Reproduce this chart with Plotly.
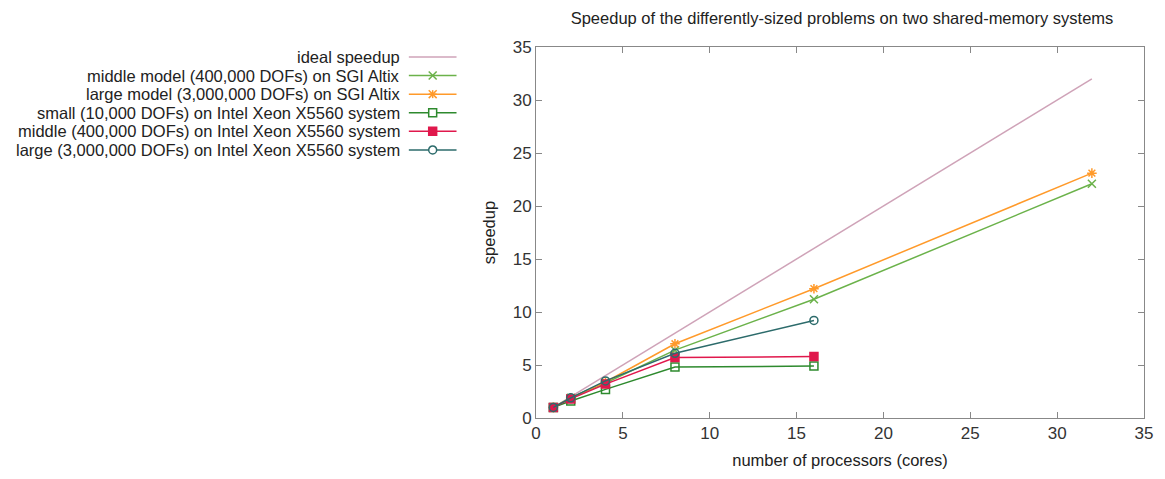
import plotly.graph_objects as go

procs_altix = [1, 2, 4, 8, 16, 32]
procs_xeon = [1, 2, 4, 8, 16]
ideal = [1, 2, 4, 8, 16, 32]
altix_middle = [1, 1.9, 3.3, 6.4, 11.2, 22.1]
altix_large = [1, 1.9, 3.4, 7.0, 12.2, 23.1]
xeon_small = [1, 1.6, 2.7, 4.8, 4.9]
xeon_middle = [1, 1.8, 3.2, 5.7, 5.8]
xeon_large = [1, 1.9, 3.5, 6.1, 9.2]

names = [
    "ideal speedup",
    "middle model (400,000 DOFs) on SGI Altix",
    "large model (3,000,000 DOFs) on SGI Altix",
    "small (10,000 DOFs) on Intel Xeon X5560 system",
    "middle (400,000 DOFs) on Intel Xeon X5560 system",
    "large (3,000,000 DOFs) on Intel Xeon X5560 system",
]
colors = ["#cfa3b8", "#6bb24a", "#ff9a2a", "#2e8a2e", "#e0184c", "#2c6b6b"]
symbols = [None, "x-thin", "asterisk-open", "square-open", "square", "circle-open"]
xs = [procs_altix, procs_altix, procs_altix, procs_xeon, procs_xeon, procs_xeon]
ys = [ideal, altix_middle, altix_large, xeon_small, xeon_middle, xeon_large]

FONT = "Liberation Sans, Arial"
W, H = 1165, 479
PL, PR, PT, PB = 536, 1148, 47, 420  # plot area in pixels


def px(x):
    return (x - PL) / (PR - PL)


def py_(y):
    return (PB - y) / (PB - PT)


fig = go.Figure()
for n, c, s, x, y in zip(names, colors, symbols, xs, ys):
    if s is None:
        fig.add_trace(go.Scatter(x=x, y=y, mode="lines", name=n,
                                 line=dict(color=c, width=1.5), showlegend=False))
    else:
        fig.add_trace(go.Scatter(x=x, y=y, mode="lines+markers", name=n,
                                 line=dict(color=c, width=1.5),
                                 marker=dict(symbol=s, size=8, color=c,
                                             line=dict(color=c, width=1.5)),
                                 showlegend=False))

# custom legend (text right-aligned, sample on the right, gnuplot style)
text_right = 401
x0, x1, xm = 408, 456, 432
row_y0, row_dy = 57, 18.7
for i, (n, c, s) in enumerate(zip(names, colors, symbols)):
    py = row_y0 + i * row_dy
    yp = py_(py)
    fig.add_annotation(x=px(text_right), y=yp, xref="paper", yref="paper",
                       text=n, showarrow=False, xanchor="right", yanchor="middle",
                       font=dict(family=FONT, size=16.5, color="#222"))
    fig.add_shape(type="line", xref="paper", yref="paper",
                  x0=px(x0), x1=px(x1), y0=yp, y1=yp,
                  line=dict(color=c, width=1.5))
    r = 4
    if s == "x-thin":
        for a, b in [(-r, -r), (-r, r)]:
            fig.add_shape(type="line", xref="paper", yref="paper",
                          x0=px(xm + a), x1=px(xm - a),
                          y0=py_(py + b), y1=py_(py - b),
                          line=dict(color=c, width=1.5))
    elif s == "asterisk-open":
        for a, b in [(-r, -r), (-r, r), (-r, 0), (0, -r)]:
            fig.add_shape(type="line", xref="paper", yref="paper",
                          x0=px(xm + a), x1=px(xm - a),
                          y0=py_(py + b), y1=py_(py - b),
                          line=dict(color=c, width=1.5))
    elif s in ("square-open", "square", "circle-open"):
        fig.add_shape(type="circle" if s == "circle-open" else "rect",
                      xref="paper", yref="paper",
                      x0=px(xm - r), x1=px(xm + r),
                      y0=py_(py + r), y1=py_(py - r),
                      line=dict(color=c, width=1.5),
                      fillcolor=c if s == "square" else "white")

axis_common = dict(range=[0, 35], dtick=5, ticks="inside", ticklen=6,
                   tickcolor="#888", showline=True, linecolor="#888", linewidth=1,
                   mirror="allticks", showgrid=False, zeroline=False,
                   tickfont=dict(family=FONT, size=17, color="#333"))
fig.update_xaxes(**axis_common,
                 title=dict(text="number of processors (cores)", standoff=12,
                            font=dict(family=FONT, size=16.5, color="#222")))
fig.update_yaxes(**axis_common,
                 title=dict(text="speedup", standoff=12,
                            font=dict(family=FONT, size=16.5, color="#222")))

fig.update_layout(
    width=W, height=H,
    margin=dict(l=PL, r=W - PR, t=PT, b=H - PB),
    plot_bgcolor="white", paper_bgcolor="white",
    title=dict(text="Speedup of the differently-sized problems on two shared-memory systems",
               x=(PL + PR) / 2 / W, xanchor="center", y=1 - 18 / H, yanchor="middle",
               font=dict(family=FONT, size=16.5, color="#222")),
)

fig.write_html("out.html", config={"displayModeBar": False},
               post_script="document.body.style.margin='0';")
